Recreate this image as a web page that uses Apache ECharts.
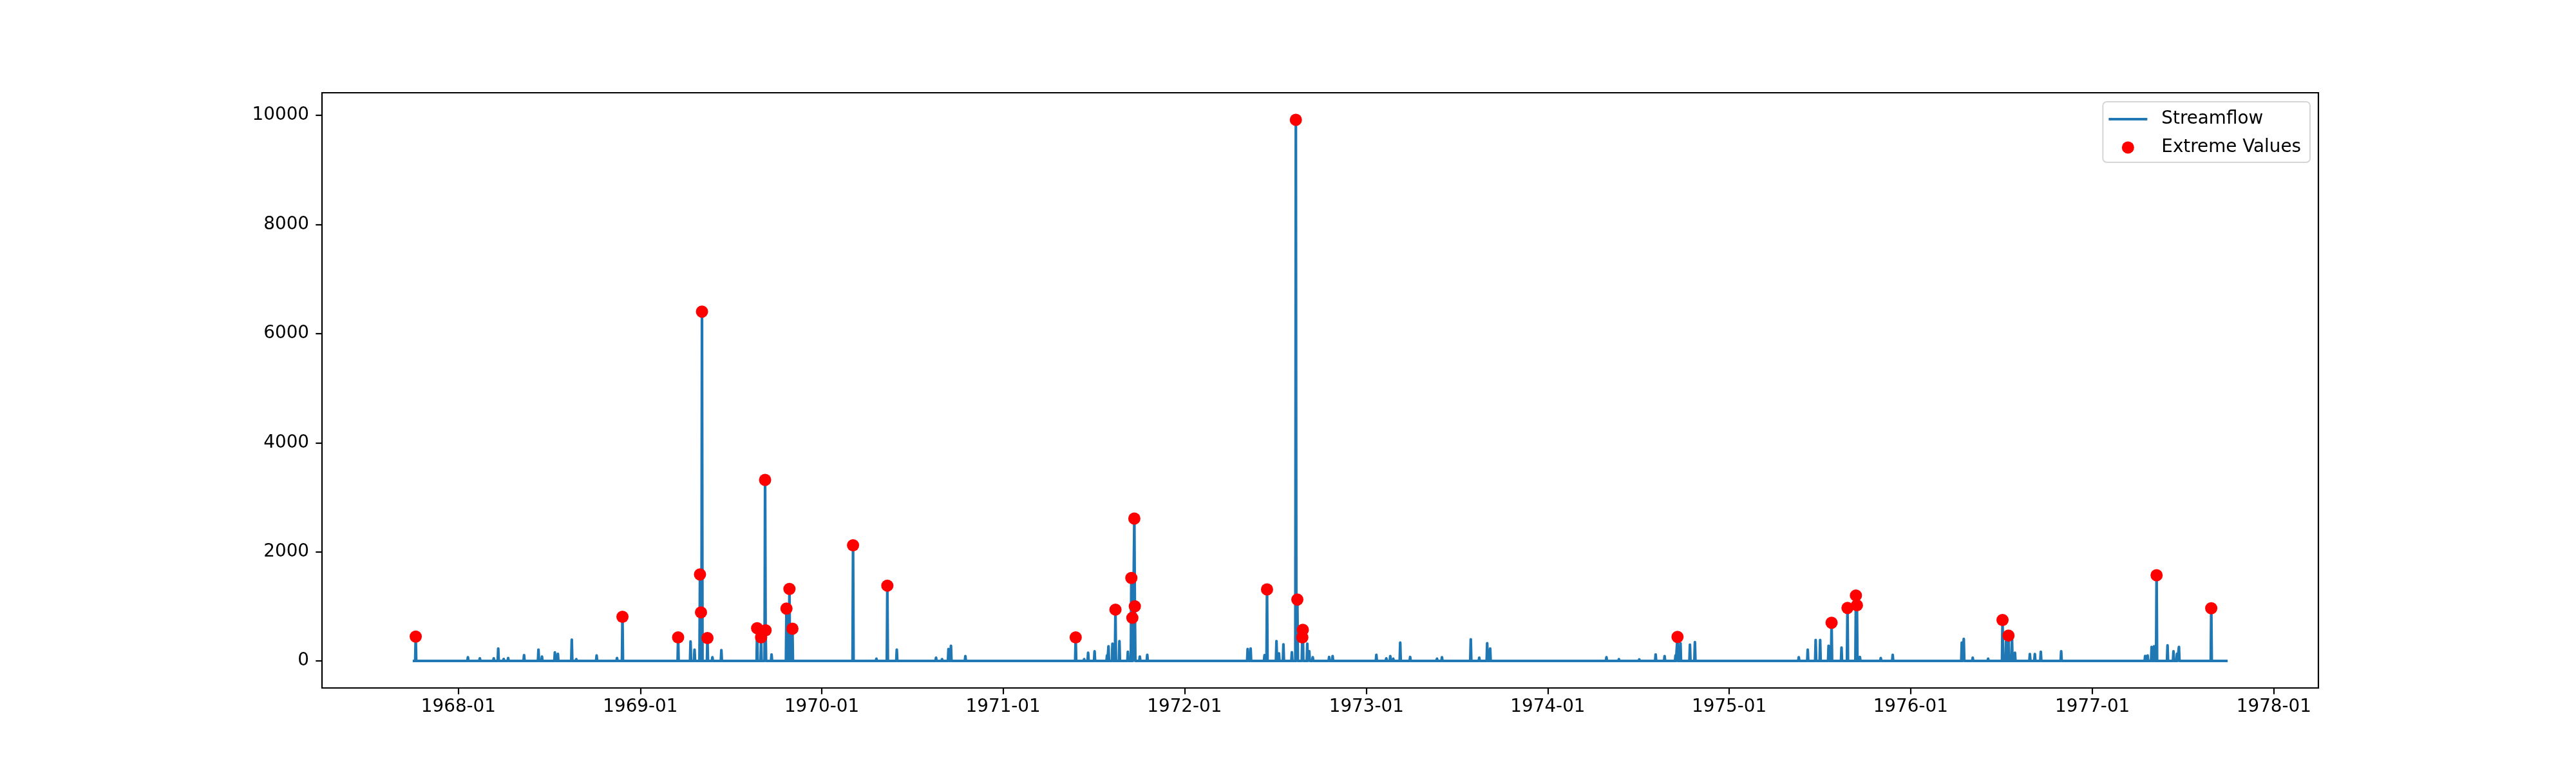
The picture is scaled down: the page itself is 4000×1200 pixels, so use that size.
<!DOCTYPE html>
<html>
<head>
<meta charset="utf-8">
<title>Streamflow</title>
<script src="https://cdn.jsdelivr.net/npm/echarts@6/dist/echarts.min.js"></script>
<style>
  html, body { margin: 0; padding: 0; background: #fff; }
  #chart { width: 4000px; height: 1200px; }
</style>
</head>
<body>
<div id="chart"></div>
<script>
// record period (water years 1968-1977), flow is ~0 outside the listed days
const recordStart = "1967-10-01"
const recordEnd = "1977-09-30"

// daily flows that rise off the baseline
const flowDates = [
  "1967-10-07", "1968-01-20", "1968-02-13", "1968-03-12", "1968-03-21", "1968-04-01",
  "1968-04-10", "1968-05-12", "1968-06-10", "1968-06-17", "1968-07-13", "1968-07-19",
  "1968-08-16", "1968-08-25", "1968-10-05", "1968-11-15", "1968-11-26", "1969-03-18",
  "1969-04-12", "1969-04-20", "1969-05-01", "1969-05-03", "1969-05-05", "1969-05-16",
  "1969-05-26", "1969-06-13", "1969-08-24", "1969-09-01", "1969-09-09", "1969-09-10",
  "1969-09-22", "1969-10-22", "1969-10-28", "1969-11-03", "1970-03-05", "1970-04-21",
  "1970-05-13", "1970-06-01", "1970-08-19", "1970-08-31", "1970-09-13", "1970-09-18",
  "1970-10-17", "1971-05-27", "1971-06-13", "1971-06-21", "1971-07-04", "1971-07-29",
  "1971-08-01", "1971-08-09", "1971-08-15", "1971-08-23", "1971-09-09", "1971-09-16",
  "1971-09-18", "1971-09-22", "1971-09-23", "1971-10-03", "1971-10-18", "1972-05-07",
  "1972-05-13", "1972-06-10", "1972-06-15", "1972-07-04", "1972-07-09", "1972-07-18",
  "1972-08-04", "1972-08-12", "1972-08-15", "1972-08-25", "1972-08-26", "1972-09-04",
  "1972-09-08", "1972-09-15", "1972-10-18", "1972-10-25", "1973-01-21", "1973-02-10",
  "1973-02-18", "1973-02-24", "1973-03-10", "1973-03-30", "1973-05-23", "1973-06-02",
  "1973-07-30", "1973-08-16", "1973-09-01", "1973-09-07", "1974-04-29", "1974-05-24",
  "1974-07-04", "1974-08-06", "1974-08-24", "1974-09-15", "1974-09-19", "1974-09-25",
  "1974-10-14", "1974-10-24", "1975-05-21", "1975-06-08", "1975-06-24", "1975-07-03",
  "1975-07-20", "1975-07-26", "1975-08-15", "1975-08-27", "1975-09-13", "1975-09-15",
  "1975-09-21", "1975-11-02", "1975-11-26", "1976-04-13", "1976-04-17", "1976-05-05",
  "1976-06-05", "1976-07-04", "1976-07-11", "1976-07-16", "1976-07-23", "1976-07-29",
  "1976-08-28", "1976-09-07", "1976-09-19", "1976-10-30", "1977-04-17", "1977-04-22",
  "1977-04-30", "1977-05-05", "1977-05-10", "1977-06-01", "1977-06-13", "1977-06-20",
  "1977-06-24", "1977-08-28",
]
const flowValues = [
  445, 67, 47, 47, 225, 35,
  51, 106, 205, 79, 154, 130,
  390, 32, 99, 51, 808, 430,
  355, 205, 1585, 890, 6404, 420,
  67, 197, 600, 430, 3319, 560,
  118, 960, 1320, 590, 2120, 40,
  1380, 205, 59, 32, 217, 276,
  87, 430, 32, 150, 177, 99,
  268, 315, 940, 363, 166, 1520,
  790, 2610, 1000, 79, 110, 217,
  225, 106, 1310, 363, 138, 304,
  158, 9920, 1125, 430, 570, 315,
  177, 67, 71, 87, 110, 47,
  87, 40, 335, 71, 40, 67,
  394, 59, 323, 225, 67, 32,
  28, 118, 87, 99, 440, 323,
  296, 343, 67, 205, 382, 382,
  276, 700, 244, 970, 1200, 1020,
  71, 51, 110, 335, 402, 59,
  40, 750, 355, 465, 434, 150,
  126, 126, 166, 177, 91, 99,
  256, 268, 1570, 284, 177, 130,
  256, 965,
]

// red markers
const extremeDates = [
  "1967-10-07", "1968-11-26", "1969-03-18", "1969-05-01", "1969-05-03", "1969-05-05",
  "1969-05-16", "1969-08-24", "1969-09-01", "1969-09-09", "1969-09-10", "1969-10-22",
  "1969-10-28", "1969-11-03", "1970-03-05", "1970-05-13", "1971-05-27", "1971-08-15",
  "1971-09-16", "1971-09-18", "1971-09-22", "1971-09-23", "1972-06-15", "1972-08-12",
  "1972-08-15", "1972-08-25", "1972-08-26", "1974-09-19", "1975-07-26", "1975-08-27",
  "1975-09-13", "1975-09-15", "1976-07-04", "1976-07-16", "1977-05-10", "1977-08-28",
]
const extremeValues = [
  445, 808, 430, 1585, 890, 6404,
  420, 600, 430, 3319, 560, 960,
  1320, 590, 2120, 1380, 430, 940,
  1520, 790, 2610, 1000, 1310, 9920,
  1125, 430, 570, 440, 700, 970,
  1200, 1020, 750, 465, 1570, 965,
]

const xTickLabels = ["1968-01", "1969-01", "1970-01", "1971-01", "1972-01", "1973-01",
  "1974-01", "1975-01", "1976-01", "1977-01", "1978-01"]
const yTicks = [0, 2000, 4000, 6000, 8000, 10000]

const DAY = 86400000
const toTime = (s) => Date.parse(s)

// daily line: baseline 0 on the days next to each rise
const buildFlow = () => {
  const byDay = new Map()
  flowDates.forEach((d, i) => byDay.set(toTime(d), flowValues[i]))
  const points = new Map(byDay)
  byDay.forEach((v, t) => {
    if (!byDay.has(t - DAY)) points.set(t - DAY, 0)
    if (!byDay.has(t + DAY)) points.set(t + DAY, 0)
  })
  points.set(toTime(recordStart), 0)
  points.set(toTime(recordEnd), 0)
  return [...points.entries()].sort((a, b) => a[0] - b[0])
}

const t0 = toTime(recordStart)
const t1 = toTime(recordEnd)
const xPad = (t1 - t0) * 0.05
const yMax = Math.max(...flowValues)
const yPad = yMax * 0.05
const xTickTimes = xTickLabels.map((s) => toTime(s + "-01"))

const font = "DejaVu Sans"
const fontSize = 27.8
const blue = "#1f77b4"

const chart = echarts.init(document.getElementById("chart"), null, { renderer: "canvas" })
const option = {
  animation: false,
  backgroundColor: "#ffffff",
  grid: {
    left: 500,
    right: 400,
    top: 144,
    bottom: 132,
    show: true,
    borderColor: "#000000",
    borderWidth: 2.2,
  },
  legend: {
    orient: "vertical",
    right: 413,
    top: 158,
    padding: [13, 14, 9, 9],
    itemWidth: 60,
    itemHeight: 19,
    itemGap: 16,
    selectedMode: false,
    borderColor: "#d6d6d6",
    borderWidth: 2,
    borderRadius: 6,
    backgroundColor: "rgba(255,255,255,0.8)",
    textStyle: {
      fontFamily: font,
      fontSize: fontSize,
      color: "#000000",
      padding: [0, 0, 0, 17],
    },
    data: [
      { name: "Streamflow", icon: "path://M0 0H60V4.2H0Z", itemStyle: { color: blue } },
      { name: "Extreme Values", icon: "circle", itemStyle: { color: "#ff0000", opacity: 1 } },
    ],
  },
  // time values on a plain value axis so the yearly ticks can be placed exactly
  xAxis: {
    type: "value",
    min: t0 - xPad,
    max: t1 + xPad,
    scale: true,
    splitLine: { show: false },
    axisLine: { show: false, onZero: false },
    axisTick: {
      show: true,
      length: 9.7,
      lineStyle: { color: "#000000", width: 2.2 },
      customValues: xTickTimes,
    },
    axisLabel: {
      fontFamily: font,
      fontSize: fontSize,
      color: "#000000",
      margin: 16,
      customValues: xTickTimes,
      formatter: (v) => {
        const d = new Date(v)
        return d.getUTCFullYear() + "-" + String(d.getUTCMonth() + 1).padStart(2, "0")
      },
    },
  },
  yAxis: {
    type: "value",
    min: -yPad,
    max: yMax + yPad,
    splitLine: { show: false },
    axisLine: { show: false, onZero: false },
    axisTick: {
      show: true,
      length: 9.7,
      lineStyle: { color: "#000000", width: 2.2 },
      customValues: yTicks,
    },
    axisLabel: {
      fontFamily: font,
      fontSize: fontSize,
      color: "#000000",
      margin: 20,
      customValues: yTicks,
      formatter: (v) => String(v),
    },
  },
  series: [
    {
      name: "Streamflow",
      type: "line",
      data: buildFlow(),
      symbol: "none",
      color: blue,
      lineStyle: { color: blue, width: 4.2, join: "round" },
      z: 2,
    },
    {
      name: "Extreme Values",
      type: "scatter",
      data: extremeDates.map((d, i) => [toTime(d), extremeValues[i]]),
      symbol: "circle",
      symbolSize: 19,
      color: "#ff0000",
      itemStyle: { color: "#ff0000", opacity: 1 },
      z: 3,
    },
  ],
}
chart.setOption(option)
</script>
</body>
</html>
